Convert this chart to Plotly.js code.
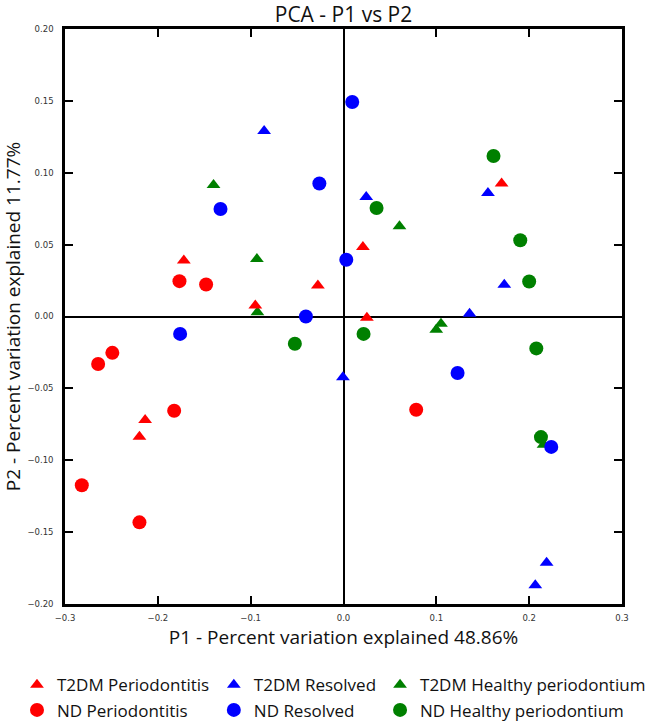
<!DOCTYPE html>
<html>
<head>
<meta charset="utf-8">
<script src="https://cdn.plot.ly/plotly-3.0.1.min.js"></script>
<style>html,body{margin:0;padding:0;background:#fff;}</style>
</head>
<body>
<div id="chart" style="width:648px;height:721px;"></div>
<script>
// Group names
const groupNames = ["T2DM Periodontitis", "ND Periodontitis", "T2DM Resolved", "ND Resolved", "T2DM Healthy periodontium", "ND Healthy periodontium"];

// P1 / P2 values per group
const t2dmPerioX = [-0.172, -0.0276, -0.095, -0.2137, -0.2198, 0.1703, 0.0209, 0.0252];
const t2dmPerioY = [0.039, 0.0216, 0.0077, -0.072, -0.0837, 0.0925, 0.0483, -0.0009];

const ndPerioX = [-0.1767, -0.148, -0.249, -0.2643, -0.1824, -0.2819, -0.2198, 0.0783];
const ndPerioY = [0.0246, 0.0223, -0.0253, -0.033, -0.0656, -0.1174, -0.1432, -0.0649];

const t2dmResX = [-0.0855, -0.0006, 0.1556, 0.0245, 0.1732, 0.1358, 0.2188, 0.2066];
const t2dmResY = [0.129, -0.0423, 0.086, 0.0832, 0.0221, 0.0019, -0.1713, -0.1869];

const ndResX = [-0.026, -0.1325, 0.003, -0.0405, -0.176, 0.0094, 0.1229, 0.2238];
const ndResY = [0.0925, 0.0748, 0.0395, 0.0, -0.0121, 0.1492, -0.0393, -0.0907];

const t2dmHealthX = [-0.14, -0.0933, -0.0927, 0.0603, 0.105, 0.0999, 0.2155];
const t2dmHealthY = [0.0914, 0.040, 0.003, 0.0628, -0.005, -0.0093, -0.0893];

const ndHealthX = [-0.0524, 0.1616, 0.0356, 0.1904, 0.200, 0.0216, 0.2077, 0.2127];
const ndHealthY = [-0.019, 0.1116, 0.0755, 0.053, 0.0244, -0.0121, -0.0222, -0.0839];

// Axis ticks
const xTicks = [-0.3, -0.2, -0.1, 0.0, 0.1, 0.2, 0.3];
const yTicks = [-0.20, -0.15, -0.10, -0.05, 0.00, 0.05, 0.10, 0.15, 0.20];

const RED = "#ff0000", BLUE = "#0000ff", GREEN = "#008000";

function tr(name, x, y, color, symbol, size, legend) {
  return {
    type: "scatter", mode: "markers", name: name, x: x, y: y,
    legend: legend, legendgroup: name,
    marker: {color: color, symbol: symbol, size: size, line: {width: 0}},
    hoverinfo: "x+y+name"
  };
}

const data = [
  tr(groupNames[4], t2dmHealthX, t2dmHealthY, GREEN, "triangle-up", 12, "legend3"),
  tr(groupNames[5], ndHealthX, ndHealthY, GREEN, "circle", 14, "legend3"),
  tr(groupNames[0], t2dmPerioX, t2dmPerioY, RED, "triangle-up", 12, "legend"),
  tr(groupNames[1], ndPerioX, ndPerioY, RED, "circle", 14, "legend"),
  tr(groupNames[2], t2dmResX, t2dmResY, BLUE, "triangle-up", 12, "legend2"),
  tr(groupNames[3], ndResX, ndResY, BLUE, "circle", 14, "legend2")
];

const legendBase = {
  orientation: "v", yanchor: "top", y: -0.11, xanchor: "left",
  font: {family: "Open Sans", size: 17, color: "#111"},
  bgcolor: "rgba(0,0,0,0)", borderwidth: 0, tracegroupgap: 0
};

const axisBase = {
  showline: true, linecolor: "#000", linewidth: 2.5, mirror: "ticks",
  ticks: "inside", ticklen: 8, tickwidth: 2, tickcolor: "#000",
  showgrid: false, zeroline: true, zerolinecolor: "#000", zerolinewidth: 1.5,
  tickfont: {family: "DejaVu Sans", size: 8.5, color: "#333"},
  automargin: false
};

const layout = {
  width: 648, height: 721,
  margin: {l: 65, r: 26, t: 29, b: 117, autoexpand: false},
  paper_bgcolor: "#fff", plot_bgcolor: "#fff",
  font: {family: "Open Sans", color: "#111"},
  title: {text: "PCA - P1 vs P2", font: {family: "Open Sans", size: 21, color: "#111"},
          x: 0.5, xref: "paper", xanchor: "center", y: 0.9792, yref: "container", yanchor: "middle"},
  xaxis: Object.assign({}, axisBase, {
    range: [-0.3, 0.3], tickvals: xTicks, tickformat: ".1f", ticklabelstandoff: 4,
    title: {text: "P1 - Percent variation explained 48.86%", font: {family: "Open Sans", size: 19, color: "#111"}, standoff: 9}
  }),
  yaxis: Object.assign({}, axisBase, {
    range: [-0.2, 0.2], tickvals: yTicks, tickformat: ".2f", ticklabelstandoff: 7,
    title: {text: "P2 - Percent variation explained 11.77%", font: {family: "Open Sans", size: 19, color: "#111"}, standoff: 8}
  }),
  legend: Object.assign({}, legendBase, {x: -0.0862}),
  legend2: Object.assign({}, legendBase, {x: 0.2672}),
  legend3: Object.assign({}, legendBase, {x: 0.5656}),
  showlegend: true
};

Plotly.newPlot("chart", data, layout, {displayModeBar: false, responsive: false});
</script>
</body>
</html>
